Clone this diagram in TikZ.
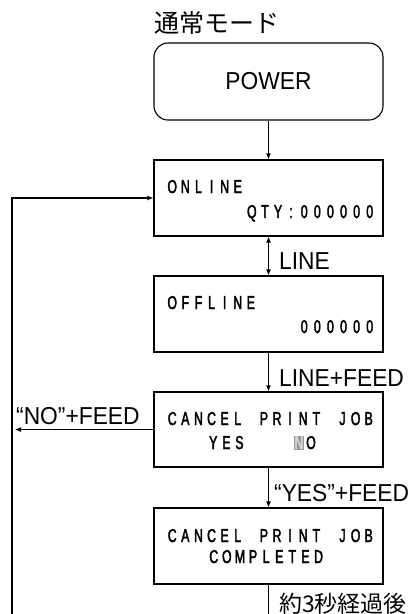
\documentclass[tikz,border=0pt]{standalone}
\usepackage{fontspec}
\setmainfont{Liberation Sans}[FakeStretch=0.93]
\newfontfamily\jp{Noto Sans CJK JP}
\newfontfamily\lcdfont{Liberation Sans}[FakeStretch=0.66,FakeBold=2.2]
\usetikzlibrary{arrows.meta}
\newlength\lcdpitch \setlength\lcdpitch{13.1pt}
\newcommand\lcdchar[1]{\makebox[\lcdpitch][c]{\ifx.#1\else#1\fi}}
\ExplSyntaxOn
\NewDocumentCommand\lcd{m}{\tl_map_inline:nn {#1} {\lcdchar{##1}}}
\ExplSyntaxOff
\begin{document}
\begin{tikzpicture}[x=1pt,y=-1pt,
  box/.style={draw,line width=1.1pt,minimum width=229pt,minimum height=76pt,inner sep=0pt},
  arr/.style={line width=1.1pt,-{Latex[length=6pt,width=5pt]}},
  lbl/.style={inner sep=0pt,font=\fontsize{24.5}{24.5}\selectfont},
  jlbl/.style={inner sep=0pt,font=\jp\fontsize{23}{23}\selectfont},
  lcdtxt/.style={inner sep=0pt,font=\lcdfont\fontsize{18.6}{18.6}\selectfont}]
\useasboundingbox (0,0) rectangle (418,614);
% title
\node[jlbl,font=\jp\fontsize{25}{25}\selectfont,anchor=west] (title) at (154,23) {通常モード};
% boxes
\node[box,rounded corners=14pt,minimum height=77pt,font=\fontsize{24.5}{24.5}\selectfont] (power) at (268.5,81.5) {POWER};
\node[box] (online) at (268.5,198) {};
\node[box] (offline) at (268.5,314) {};
\node[box,minimum height=75pt] (cancel) at (268.5,429.5) {};
\node[box] (done) at (268.5,546) {};
% LCD texts
\node[lcdtxt,anchor=base west] (t1) at (165.5,193) {\lcd{ONLINE}};
\node[lcdtxt,anchor=base east] (t2) at (376.5,218) {\lcd{QTY:000000}};
\node[lcdtxt,anchor=base west] (t3) at (165.5,309) {\lcd{OFFLINE}};
\node[lcdtxt,anchor=base east] (t4) at (376.5,333) {\lcd{000000}};
\node[lcdtxt,anchor=base west] (t5) at (165.5,425) {\lcd{CANCEL.PRINT.JOB}};
\node[lcdtxt,anchor=base west] (t6) at (206.5,449) {\lcd{YES}};
\node[fill=black!40,inner sep=0pt,minimum width=10pt,minimum height=14pt] (nhl) at (299,443) {};
\node[lcdtxt,anchor=base,text=white!85!black] (t7) at (299,449) {N};
\node[lcdtxt,anchor=base] (t8) at (311,449) {O};
\node[lcdtxt,anchor=base west] (t9) at (165.5,542) {\lcd{CANCEL.PRINT.JOB}};
\node[lcdtxt,anchor=base west] (t10) at (207,563) {\lcd{COMPLETED}};
% labels
\node[lbl,anchor=west] (l1) at (279,261) {LINE};
\node[lbl,anchor=west] (l2) at (279,378) {LINE+FEED};
\node[lbl,anchor=west] (l3) at (16,416) {“NO”+FEED};
\node[lbl,anchor=west] (l4) at (274,493) {“YES”+FEED};
\node[jlbl,anchor=west] (l5) at (279,604) {約3秒経過後};
% connectors
\coordinate (lb) at (12,614);
\coordinate (noend) at (15,429.5);
\coordinate (db) at (268.5,614);
\draw[arr] (power) -- (online);
\draw[line width=1.1pt,{Latex[length=6pt,width=5pt]}-{Latex[length=6pt,width=5pt]}] (online) -- (offline);
\draw[arr] (offline) -- (cancel);
\draw[arr] (cancel) -- (done);
\draw[arr] (cancel.west) -- (noend);
\draw[arr] (lb) |- (online.west);
\draw[line width=1.1pt] (done) -- (db);
\end{tikzpicture}
\end{document}
